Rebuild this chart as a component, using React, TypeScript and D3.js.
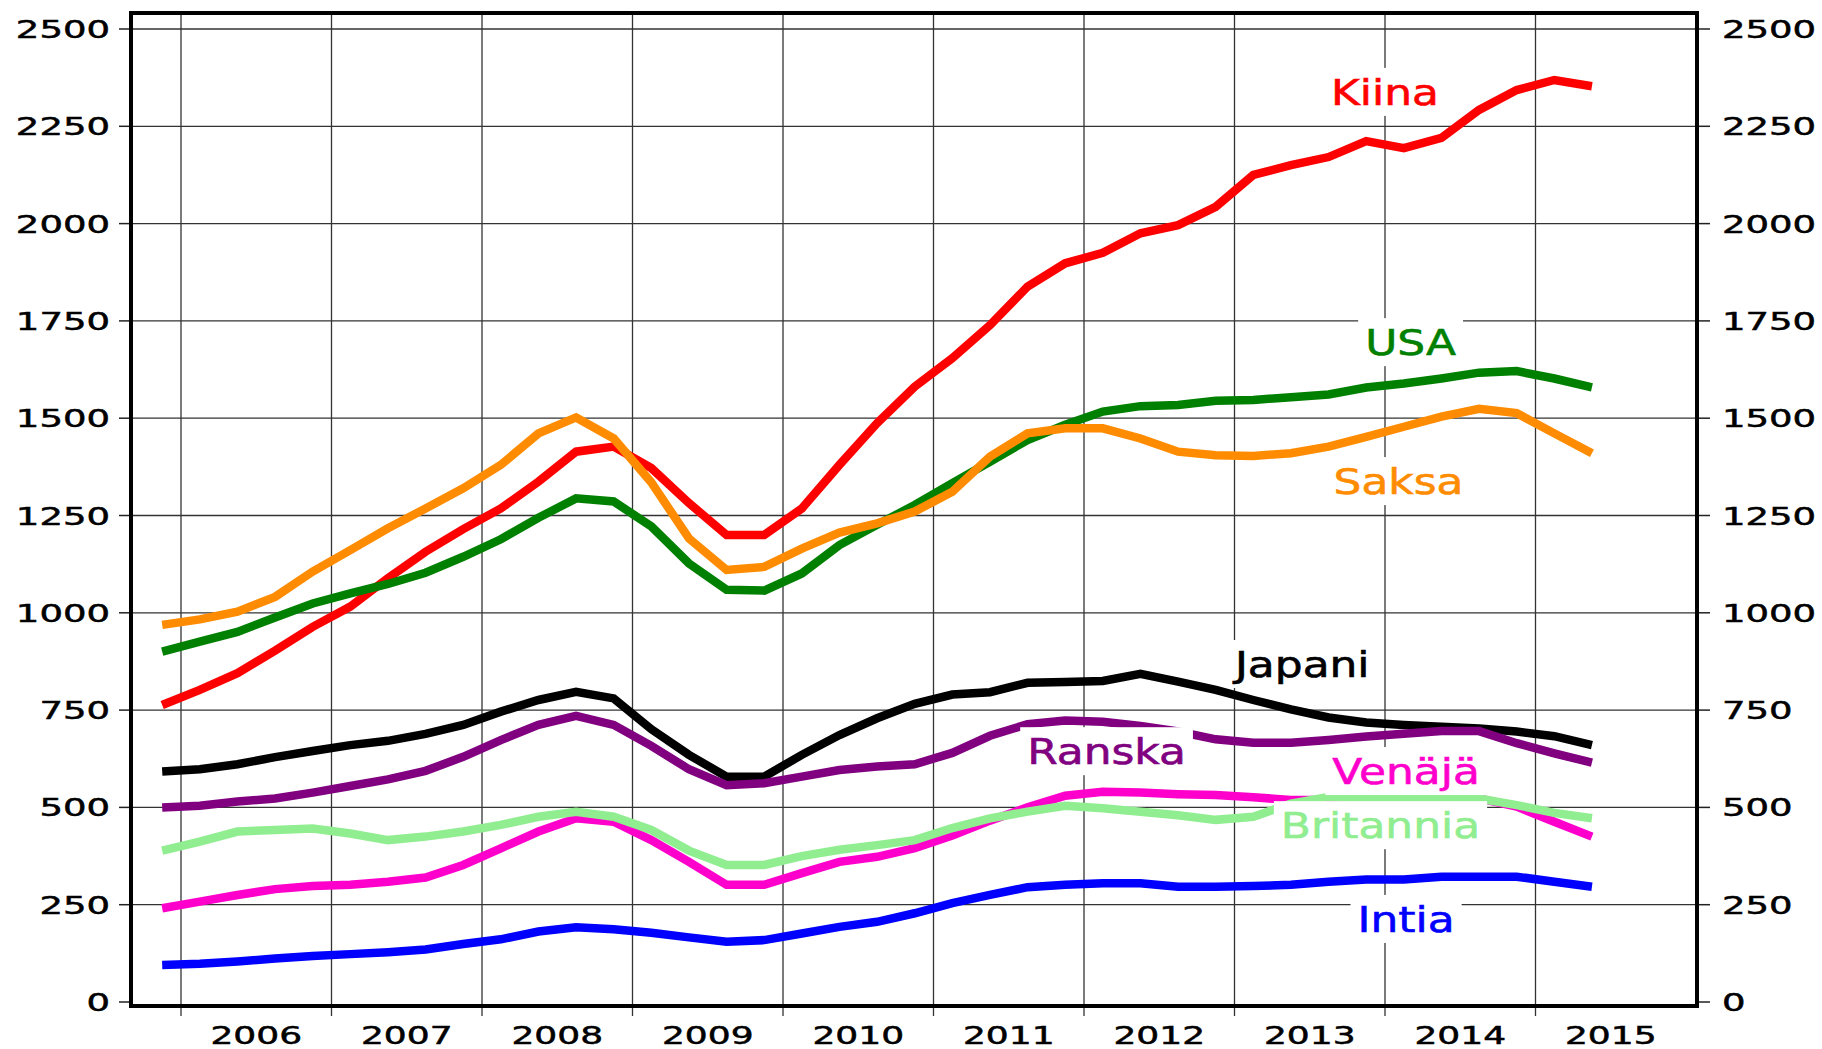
import React, { useEffect, useRef } from "react";
import * as d3 from "d3";

const quarters = [
  "2005Q4",
  "2006Q1", "2006Q2", "2006Q3", "2006Q4",
  "2007Q1", "2007Q2", "2007Q3", "2007Q4",
  "2008Q1", "2008Q2", "2008Q3", "2008Q4",
  "2009Q1", "2009Q2", "2009Q3", "2009Q4",
  "2010Q1", "2010Q2", "2010Q3", "2010Q4",
  "2011Q1", "2011Q2", "2011Q3", "2011Q4",
  "2012Q1", "2012Q2", "2012Q3", "2012Q4",
  "2013Q1", "2013Q2", "2013Q3", "2013Q4",
  "2014Q1", "2014Q2", "2014Q3", "2014Q4",
  "2015Q1", "2015Q2",
];

const years = ["2006", "2007", "2008", "2009", "2010", "2011", "2012", "2013", "2014", "2015"];
const yTicks = [0, 250, 500, 750, 1000, 1250, 1500, 1750, 2000, 2250, 2500];

const kiina = [763, 802, 845, 903, 964, 1016, 1089, 1157, 1215, 1268, 1337, 1414, 1427, 1372, 1282, 1200, 1200, 1268, 1380, 1487, 1581, 1654, 1739, 1838, 1898, 1925, 1975, 1996, 2043, 2125, 2150, 2171, 2212, 2194, 2220, 2292, 2343, 2369, 2353];
const usa = [900, 926, 951, 988, 1024, 1050, 1074, 1103, 1144, 1189, 1244, 1294, 1286, 1222, 1127, 1059, 1057, 1101, 1174, 1226, 1277, 1333, 1388, 1444, 1483, 1517, 1531, 1534, 1545, 1547, 1554, 1561, 1579, 1589, 1602, 1617, 1621, 1602, 1579];
const saksa = [969, 983, 1003, 1041, 1106, 1161, 1217, 1268, 1320, 1380, 1461, 1502, 1448, 1335, 1191, 1110, 1118, 1165, 1206, 1230, 1260, 1311, 1401, 1461, 1474, 1474, 1448, 1414, 1405, 1403, 1410, 1427, 1452, 1478, 1504, 1524, 1513, 1461, 1410];
const japani = [592, 598, 611, 629, 645, 660, 671, 689, 712, 746, 776, 797, 780, 701, 635, 579, 579, 635, 686, 729, 766, 790, 796, 820, 822, 825, 843, 823, 802, 776, 752, 731, 718, 712, 707, 703, 695, 683, 660];
const ranska = [500, 504, 515, 523, 538, 555, 572, 594, 630, 673, 712, 735, 712, 658, 598, 557, 562, 579, 596, 605, 611, 640, 684, 714, 723, 720, 709, 695, 675, 666, 666, 673, 682, 689, 696, 696, 665, 639, 615];
const venaja = [241, 258, 275, 290, 298, 301, 309, 320, 352, 395, 438, 472, 463, 416, 360, 301, 301, 331, 360, 373, 395, 428, 466, 500, 530, 540, 538, 534, 532, 526, 519, 519, 519, 523, 523, 523, 502, 463, 425];
const britannia = [389, 412, 438, 442, 446, 433, 416, 425, 438, 455, 476, 489, 476, 442, 389, 352, 352, 375, 391, 403, 416, 447, 472, 489, 504, 498, 489, 480, 468, 476, 510, 527, 523, 523, 523, 523, 506, 486, 472];
const intia = [95, 98, 104, 112, 118, 123, 128, 135, 149, 161, 181, 192, 187, 178, 166, 155, 159, 176, 193, 206, 228, 254, 275, 295, 301, 305, 305, 296, 296, 298, 301, 309, 315, 315, 322, 322, 322, 309, 296];

const series = [
  { name: "Kiina", color: "#ff0000", values: kiina },
  { name: "USA", color: "#008000", values: usa },
  { name: "Saksa", color: "#ff8c00", values: saksa },
  { name: "Japani", color: "#000000", values: japani },
  { name: "Ranska", color: "#800080", values: ranska },
  { name: "Venäjä", color: "#ff00cc", values: venaja },
  { name: "Britannia", color: "#90ee90", values: britannia },
  { name: "Intia", color: "#0000ff", values: intia },
];

// where each name sits, in chart units (year, value of baseline)
const labelPos = {
  Kiina: [2014.0, 2305],
  USA: [2014.17, 1662],
  Saksa: [2014.09, 1305],
  Japani: [2013.45, 835],
  Ranska: [2012.15, 611],
  Venäjä: [2014.14, 560],
  Britannia: [2013.97, 421],
  Intia: [2014.14, 180],
};

const toYear = (q: string) => +q.slice(0, 4) + (+q.slice(5) - 0.5) / 4;

export default function App() {
  const ref = useRef<SVGSVGElement>(null);

  useEffect(() => {
    const svg = d3.select(ref.current);
    svg.selectAll("*").remove();

    const font = "'DejaVu Sans', sans-serif";
    const left = 131, right = 1697, top = 13, bottom = 1006;

    const x = d3.scaleLinear().domain([2006, 2015]).range([181, 1535.5]);
    const y = d3.scaleLinear().domain([0, 2500]).range([1002, 29]);

    // grid
    svg.append("g")
      .selectAll("line")
      .data(yTicks.filter((d) => d > 0))
      .enter()
      .append("line")
      .attr("x1", left).attr("x2", right)
      .attr("y1", (d) => y(d)).attr("y2", (d) => y(d))
      .attr("stroke", "#333").attr("stroke-width", 1.3);

    svg.append("g")
      .selectAll("line")
      .data(years)
      .enter()
      .append("line")
      .attr("x1", (d) => x(+d)).attr("x2", (d) => x(+d))
      .attr("y1", top).attr("y2", bottom + 10)
      .attr("stroke", "#333").attr("stroke-width", 1.3);

    // y ticks both sides
    const ticks = svg.append("g");
    yTicks.forEach((v) => {
      ticks.append("line").attr("x1", left - 12).attr("x2", left)
        .attr("y1", y(v)).attr("y2", y(v)).attr("stroke", "#222").attr("stroke-width", 1.5);
      ticks.append("line").attr("x1", right).attr("x2", right + 13)
        .attr("y1", y(v)).attr("y2", y(v)).attr("stroke", "#222").attr("stroke-width", 1.5);
      ticks.append("text")
        .attr("transform", `translate(${left - 21},${y(v) + 9}) scale(1.48,1)`)
        .attr("text-anchor", "end")
        .attr("stroke", "#000").attr("stroke-width", 0.5)
        .style("font-family", font).style("font-size", "25px")
        .text(v);
      ticks.append("text")
        .attr("transform", `translate(${right + 25},${y(v) + 9}) scale(1.48,1)`)
        .attr("text-anchor", "start")
        .attr("stroke", "#000").attr("stroke-width", 0.5)
        .style("font-family", font).style("font-size", "25px")
        .text(v);
    });

    ticks.selectAll("text.year")
      .data(years)
      .enter()
      .append("text")
      .attr("class", "year")
      .attr("transform", (d) => `translate(${x(+d + 0.5)},${bottom + 38}) scale(1.5,1)`)
      .attr("text-anchor", "middle")
      .attr("stroke", "#000").attr("stroke-width", 0.5)
      .style("font-family", font).style("font-size", "24px")
      .text((d) => d);

    // lines
    const line = d3.line<number>()
      .x((_, i) => x(toYear(quarters[i])))
      .y((d) => y(d));

    svg.append("g")
      .selectAll("path")
      .data(series)
      .enter()
      .append("path")
      .attr("d", (s) => line(s.values))
      .attr("fill", "none")
      .attr("stroke", (s) => s.color)
      .attr("stroke-width", 8.5)
      .attr("stroke-linejoin", "miter")
      .attr("stroke-linecap", "butt");

    // frame
    svg.append("rect")
      .attr("x", left).attr("y", top)
      .attr("width", right - left).attr("height", bottom - top)
      .attr("fill", "none").attr("stroke", "#000").attr("stroke-width", 4);

    // names with white boxes
    series.forEach((s) => {
      const [ly, lv] = labelPos[s.name];
      const g = svg.append("g");
      const t = g.append("text")
        .attr("transform", `translate(${x(ly)},${y(lv)}) scale(1.22,1)`)
        .attr("text-anchor", "middle")
        .attr("fill", s.color)
        .attr("stroke", s.color).attr("stroke-width", 0.6)
        .style("font-family", font).style("font-size", "36px")
        .text(s.name);
      const w = (t.node() as SVGTextElement).getComputedTextLength() * 1.22;
      g.insert("rect", "text")
        .attr("x", x(ly) - w / 2 - 7)
        .attr("y", y(lv) - 37)
        .attr("width", w + 14)
        .attr("height", 48)
        .attr("fill", "#fff");
    });
  }, []);

  return (
    <svg
      ref={ref}
      width={1822}
      height={1049}
      style={{ position: "absolute", left: 0, top: 0, background: "#fff" }}
    />
  );
}
